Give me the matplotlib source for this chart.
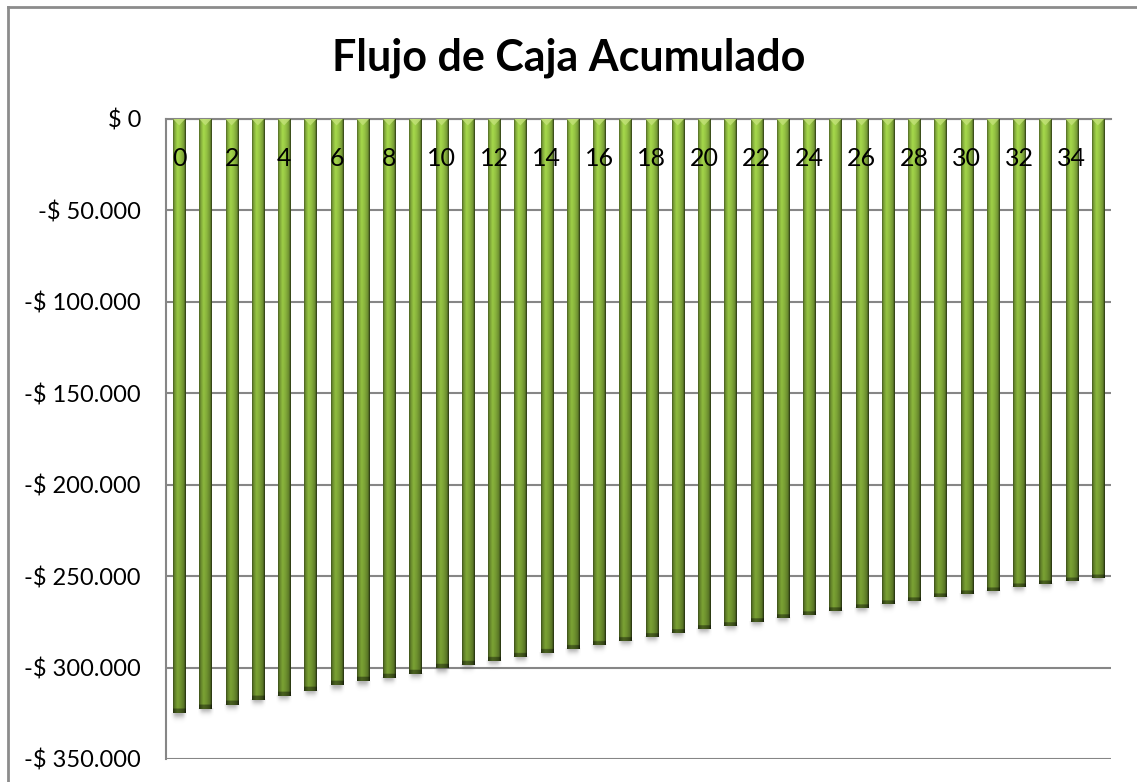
import numpy as np
import matplotlib
matplotlib.use("Agg")
import matplotlib.pyplot as plt
from matplotlib.lines import Line2D
from matplotlib.colors import to_rgb

# Cumulative cash flow per period
periods = list(range(36))
cumulative_flow = [
    -325100, -322600, -320400, -317500, -315300, -312600, -309800, -307600,
    -305500, -303300, -300500, -298400, -296200, -294200, -292000, -289800,
    -287700, -285500, -283300, -281100, -279000, -277300, -275100, -273000,
    -271000, -268900, -267500, -265100, -263700, -261500, -259600, -258200,
    -256000, -254100, -252700, -251100,
]
y_ticks = [0, -50000, -100000, -150000, -200000, -250000, -300000, -350000]
y_tick_labels = ["$ 0", "-$ 50.000", "-$ 100.000", "-$ 150.000", "-$ 200.000",
                 "-$ 250.000", "-$ 300.000", "-$ 350.000"]
x_tick_labels = [str(p) if p % 2 == 0 else "" for p in periods]
title = "Flujo de Caja Acumulado"

plt.rcParams["font.family"] = ["Lato", "DejaVu Sans"]

W, H, DPI = 1137, 782, 100
fig = plt.figure(figsize=(W / DPI, H / DPI), dpi=DPI)
fig.patch.set_facecolor("white")
ax = fig.add_axes([166 / W, 1 - 759 / H, (1111 - 166) / W, (759 - 119) / H])

# Cylinder-like shading for the bars
bar_w = 0.46
ncols, nrows = 40, 400
u = np.linspace(0, 1, ncols)
hx = np.interp(u, [0.0, 0.12, 0.35, 0.6, 0.85, 0.95, 1.0],
               [0.55, 0.85, 1.12, 1.0, 0.8, 0.5, 0.3])
v = np.linspace(0, 1, nrows)
top_c = np.array(to_rgb("#96c444"))
bot_c = np.array(to_rgb("#6d902e"))
base = top_c[None, :] * (1 - v[:, None]) + bot_c[None, :] * v[:, None]
vy = np.where(v > 0.993, 0.6, 1.0)
shade = base[:, None, :] * hx[None, :, None] * vy[:, None, None]
shade = np.clip(shade, 0, 1)

# Soft drop shadow under each bar end
sh_rows = 30
sv = np.linspace(0, 1, sh_rows)
su = np.linspace(-1, 1, ncols)
shadow = np.zeros((sh_rows, ncols, 4))
shadow[..., :3] = 0.35
shadow[..., 3] = (0.45 * np.exp(-(sv[:, None] * 2.2) ** 2)
                  * np.exp(-(su[None, :] * 1.3) ** 4))

for x, val in zip(periods, cumulative_flow):
    ax.imshow(shadow, extent=(x - bar_w * 0.65, x + bar_w * 0.65, val - 5500, val),
              origin="upper", aspect="auto", interpolation="bilinear", zorder=2)
    ax.imshow(shade, extent=(x - bar_w / 2, x + bar_w / 2, val, 0),
              origin="upper", aspect="auto", interpolation="bilinear", zorder=3)
    # light bevel at the top of each bar
    ax.fill([x - bar_w / 2, x + bar_w / 2, x], [0, 0, -3500],
            color="#c4e27a", alpha=0.8, lw=0, zorder=4)

ax.set_xlim(-0.5, len(periods) - 0.5)
ax.set_ylim(-350000, 0)

# Gridlines and axes
ax.set_yticks(y_ticks)
ax.set_yticklabels(y_tick_labels)
ax.yaxis.grid(True, color="#868686", lw=1.5)
ax.set_axisbelow(True)
ax.set_xticks(periods)
ax.set_xticklabels(x_tick_labels)
ax.xaxis.set_zorder(6)

for s in ["top", "right"]:
    ax.spines[s].set_visible(False)
ax.spines["bottom"].set_position(("data", 0))
ax.spines["bottom"].set_color("#868686")
ax.spines["bottom"].set_linewidth(1.5)
ax.spines["bottom"].set_zorder(1)
ax.spines["left"].set_color("#868686")
ax.spines["left"].set_linewidth(1.5)

ax.tick_params(axis="x", length=0, pad=20, labelsize=18, colors="black")
ax.tick_params(axis="y", length=0, pad=18, labelsize=17, colors="black")

fig.text(0.5, 1 - 58 / H, title, ha="center", va="center",
         fontsize=31, fontweight="bold")

# Chart area frame
fig.add_artist(Line2D([8 / W, 8 / W], [0, 1 - 7 / H], color="#8c8c8c", lw=2))
fig.add_artist(Line2D([8 / W, 1], [1 - 7 / H, 1 - 7 / H], color="#8c8c8c", lw=2))

fig.savefig("out.png", dpi=DPI, facecolor="white")
